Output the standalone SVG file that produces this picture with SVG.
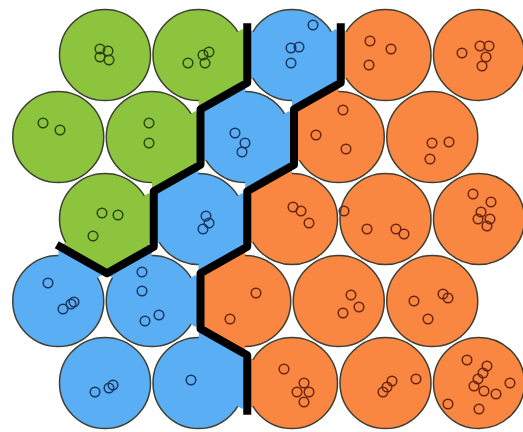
<svg xmlns="http://www.w3.org/2000/svg" width="523" height="432" viewBox="0 0 523 432">
<style>
.g{fill:#8cc43e}.b{fill:#5aaef4}.o{fill:#f98742}
.c{stroke:#3f3f33;stroke-width:1.5}
.rg circle{fill:none;stroke:#2c4512;stroke-width:1.5}
.rb circle{fill:none;stroke:#1b3563;stroke-width:1.5}
.ro circle{fill:none;stroke:#6a2410;stroke-width:1.5}
.line{fill:none;stroke:#000;stroke-width:8;stroke-linejoin:round;stroke-linecap:square}
</style>
<defs>
<clipPath id="fR"><path d="M0,0L46.75,-27.7L46.75,27.7L0,54.3Z"/></clipPath>
<clipPath id="fR3"><path d="M0,0L46.75,-27.7L46.75,27.7L0,54.3L-46.75,27.7Z"/></clipPath>
<clipPath id="fLR"><path d="M0,0L-46.75,27.7L-46.75,-27.7ZM0,0L46.75,-27.7L46.75,27.7L0,54.3Z"/></clipPath>
<clipPath id="fULR"><path d="M0,0L-46.75,27.7L-46.75,-27.7L0,-54.3ZM0,0L46.75,-27.7L46.75,27.7L0,54.3Z"/></clipPath>
<clipPath id="fUR"><path d="M0,0L0,-54.3L46.75,-27.7Z"/></clipPath>
<clipPath id="f42"><path d="M0,0L-46.75,-27.7L0,-54.3ZM0,0L46.75,-27.7L46.75,27.7Z"/></clipPath>
<clipPath id="f52"><path d="M0,0L0,-54.3L46.75,-27.7L46.75,27.7Z"/></clipPath>
<clipPath id="fL"><path d="M0,0L-46.75,27.7L-46.75,-27.7Z"/></clipPath>
<clipPath id="fUL"><path d="M0,0L-46.75,27.7L-46.75,-27.7L0,-54.3Z"/></clipPath>
<clipPath id="f43"><path d="M0,0L0,54.3L-46.75,27.7L-46.75,-27.7L0,-54.3Z"/></clipPath>
</defs>
<rect width="523" height="432" fill="#fff"/>

<!-- Row 1 -->
<g id="c1_1"><circle class="g c" cx="105" cy="55" r="45.5"/>
<g class="rg"><circle cx="100" cy="49" r="4.8"/><circle cx="108" cy="51" r="4.8"/><circle cx="100" cy="57" r="4.8"/><circle cx="109" cy="60" r="4.8"/></g></g>
<g id="c1_2"><circle class="g c" cx="198.5" cy="55" r="45.5"/><g transform="translate(198.5,55)"><circle class="g" r="51" clip-path="url(#fR)"/></g>
<g class="rg"><circle cx="188" cy="63" r="4.8"/><circle cx="203" cy="55" r="4.8"/><circle cx="209" cy="52" r="4.8"/><circle cx="205" cy="63" r="4.8"/></g></g>
<g id="c1_3"><circle class="b c" cx="292" cy="55" r="45.5"/><g transform="translate(292,55)"><circle class="b" r="51" clip-path="url(#fLR)"/></g>
<g class="rb"><circle cx="313" cy="25" r="4.8"/><circle cx="291" cy="48" r="4.8"/><circle cx="299" cy="47" r="4.8"/><circle cx="291" cy="63" r="4.8"/></g></g>
<g id="c1_4"><circle class="o c" cx="385.5" cy="55" r="45.5"/><g transform="translate(385.5,55)"><circle class="o" r="51" clip-path="url(#fL)"/></g>
<g class="ro"><circle cx="370" cy="41" r="4.8"/><circle cx="391" cy="49" r="4.8"/><circle cx="369" cy="65" r="4.8"/></g></g>
<g id="c1_5"><circle class="o c" cx="479" cy="55" r="45.5"/>
<g class="ro"><circle cx="462" cy="53" r="4.8"/><circle cx="480" cy="46" r="4.8"/><circle cx="489" cy="46" r="4.8"/><circle cx="486" cy="57" r="4.8"/><circle cx="482" cy="66" r="4.8"/></g></g>

<!-- Row 2 -->
<g id="c2_1"><circle class="g c" cx="58.25" cy="137" r="45.5"/>
<g class="rg"><circle cx="43" cy="123" r="4.8"/><circle cx="60" cy="130" r="4.8"/></g></g>
<g id="c2_2"><circle class="g c" cx="151.75" cy="137" r="45.5"/><g transform="translate(151.75,137)"><circle class="g" r="51" clip-path="url(#fR)"/></g>
<g class="rg"><circle cx="149" cy="123" r="4.8"/><circle cx="149" cy="143" r="4.8"/></g></g>
<g id="c2_3"><circle class="b c" cx="245.25" cy="137" r="45.5"/><g transform="translate(245.25,137)"><circle class="b" r="51" clip-path="url(#fULR)"/></g>
<g class="rb"><circle cx="235" cy="133" r="4.8"/><circle cx="245" cy="143" r="4.8"/><circle cx="242" cy="152" r="4.8"/></g></g>
<g id="c2_4"><circle class="o c" cx="338.75" cy="137" r="45.5"/><g transform="translate(338.75,137)"><circle class="o" r="51" clip-path="url(#fUL)"/></g>
<g class="ro"><circle cx="343" cy="110" r="4.8"/><circle cx="316" cy="135" r="4.8"/><circle cx="346" cy="149" r="4.8"/></g></g>
<g id="c2_5"><circle class="o c" cx="432.25" cy="137" r="45.5"/>
<g class="ro"><circle cx="432" cy="143" r="4.8"/><circle cx="449" cy="142" r="4.8"/><circle cx="430" cy="159" r="4.8"/></g></g>

<!-- Row 3 -->
<g id="c3_1"><circle class="g c" cx="105" cy="219" r="45.5"/><g transform="translate(105,219)"><circle class="g" r="51" clip-path="url(#fR3)"/></g>
<g class="rg"><circle cx="102" cy="213" r="4.8"/><circle cx="118" cy="215" r="4.8"/><circle cx="93" cy="236" r="4.8"/></g></g>
<g id="c3_2"><circle class="b c" cx="198.5" cy="219" r="45.5"/><g transform="translate(198.5,219)"><circle class="b" r="51" clip-path="url(#fULR)"/></g>
<g class="rb"><circle cx="206" cy="216" r="4.8"/><circle cx="209" cy="223" r="4.8"/><circle cx="203" cy="229" r="4.8"/></g></g>
<g id="c3_3"><circle class="o c" cx="292" cy="219" r="45.5"/><g transform="translate(292,219)"><circle class="o" r="51" clip-path="url(#fUL)"/></g>
<g class="ro"><circle cx="293" cy="207" r="4.8"/><circle cx="301" cy="211" r="4.8"/><circle cx="309" cy="223" r="4.8"/></g></g>
<g id="c3_4"><circle class="o c" cx="385.5" cy="219" r="45.5"/>
<g class="ro"><circle cx="344" cy="211" r="4.8"/><circle cx="367" cy="229" r="4.8"/><circle cx="396" cy="229" r="4.8"/><circle cx="404" cy="234" r="4.8"/></g></g>
<g id="c3_5"><circle class="o c" cx="479" cy="219" r="45.5"/>
<g class="ro"><circle cx="473" cy="194" r="4.8"/><circle cx="491" cy="202" r="4.8"/><circle cx="481" cy="212" r="4.8"/><circle cx="478" cy="219" r="4.8"/><circle cx="490" cy="219" r="4.8"/><circle cx="487" cy="226" r="4.8"/></g></g>

<!-- Row 4 -->
<g id="c4_1"><circle class="b c" cx="58.25" cy="301" r="45.5"/><g transform="translate(58.25,301)"><circle class="b" r="51" clip-path="url(#fUR)"/></g>
<g class="rb"><circle cx="48" cy="283" r="4.8"/><circle cx="63" cy="309" r="4.8"/><circle cx="71" cy="304" r="4.8"/><circle cx="74" cy="302" r="4.8"/></g></g>
<g id="c4_2"><circle class="b c" cx="151.75" cy="301" r="45.5"/><g transform="translate(151.75,301)"><circle class="b" r="51" clip-path="url(#f42)"/></g>
<g class="rb"><circle cx="142" cy="272" r="4.8"/><circle cx="142" cy="291" r="4.8"/><circle cx="145" cy="321" r="4.8"/><circle cx="159" cy="315" r="4.8"/></g></g>
<g id="c4_3"><circle class="o c" cx="245.25" cy="301" r="45.5"/><g transform="translate(245.25,301)"><circle class="o" r="51" clip-path="url(#f43)"/></g>
<g class="ro"><circle cx="256" cy="293" r="4.8"/><circle cx="230" cy="319" r="4.8"/></g></g>
<g id="c4_4"><circle class="o c" cx="338.75" cy="301" r="45.5"/>
<g class="ro"><circle cx="351" cy="295" r="4.8"/><circle cx="359" cy="307" r="4.8"/><circle cx="343" cy="313" r="4.8"/></g></g>
<g id="c4_5"><circle class="o c" cx="432.25" cy="301" r="45.5"/>
<g class="ro"><circle cx="414" cy="301" r="4.8"/><circle cx="443" cy="294" r="4.8"/><circle cx="448" cy="298" r="4.8"/><circle cx="428" cy="319" r="4.8"/></g></g>

<!-- Row 5 -->
<g id="c5_1"><circle class="b c" cx="105" cy="383" r="45.5"/>
<g class="rb"><circle cx="95" cy="392" r="4.8"/><circle cx="109" cy="388" r="4.8"/><circle cx="113" cy="385" r="4.8"/></g></g>
<g id="c5_2"><circle class="b c" cx="198.5" cy="383" r="45.5"/><g transform="translate(198.5,383)"><circle class="b" r="51" clip-path="url(#f52)"/></g>
<g class="rb"><circle cx="191" cy="380" r="4.8"/></g></g>
<g id="c5_3"><circle class="o c" cx="292" cy="383" r="45.5"/><g transform="translate(292,383)"><circle class="o" r="51" clip-path="url(#fL)"/></g>
<g class="ro"><circle cx="284" cy="369" r="4.8"/><circle cx="304" cy="383" r="4.8"/><circle cx="297" cy="392" r="4.8"/><circle cx="309" cy="392" r="4.8"/><circle cx="304" cy="402" r="4.8"/></g></g>
<g id="c5_4"><circle class="o c" cx="385.5" cy="383" r="45.5"/>
<g class="ro"><circle cx="416" cy="379" r="4.8"/><circle cx="392" cy="381" r="4.8"/><circle cx="387" cy="387" r="4.8"/><circle cx="383" cy="392" r="4.8"/></g></g>
<g id="c5_5"><circle class="o c" cx="479" cy="383" r="45.5"/>
<g class="ro"><circle cx="467" cy="360" r="4.8"/><circle cx="487" cy="366" r="4.8"/><circle cx="483" cy="373" r="4.8"/><circle cx="478" cy="379" r="4.8"/><circle cx="474" cy="386" r="4.8"/><circle cx="484" cy="391" r="4.8"/><circle cx="496" cy="394" r="4.8"/><circle cx="510" cy="383" r="4.8"/><circle cx="448" cy="404" r="4.8"/><circle cx="479" cy="409" r="4.8"/></g></g>

<g id="connectors">
<path class="line" d="M247.25,27.2V82.8L200.5,109.2V164.8L153.75,191.2V246.8L107,273.2L60.25,246.8"/>
<path class="line" d="M340.75,27.2V82.8L294,109.2V164.8L247.25,191.2V246.8L200.5,273.2V328.8L247.25,355.2V410.8"/>
</g>
</svg>
